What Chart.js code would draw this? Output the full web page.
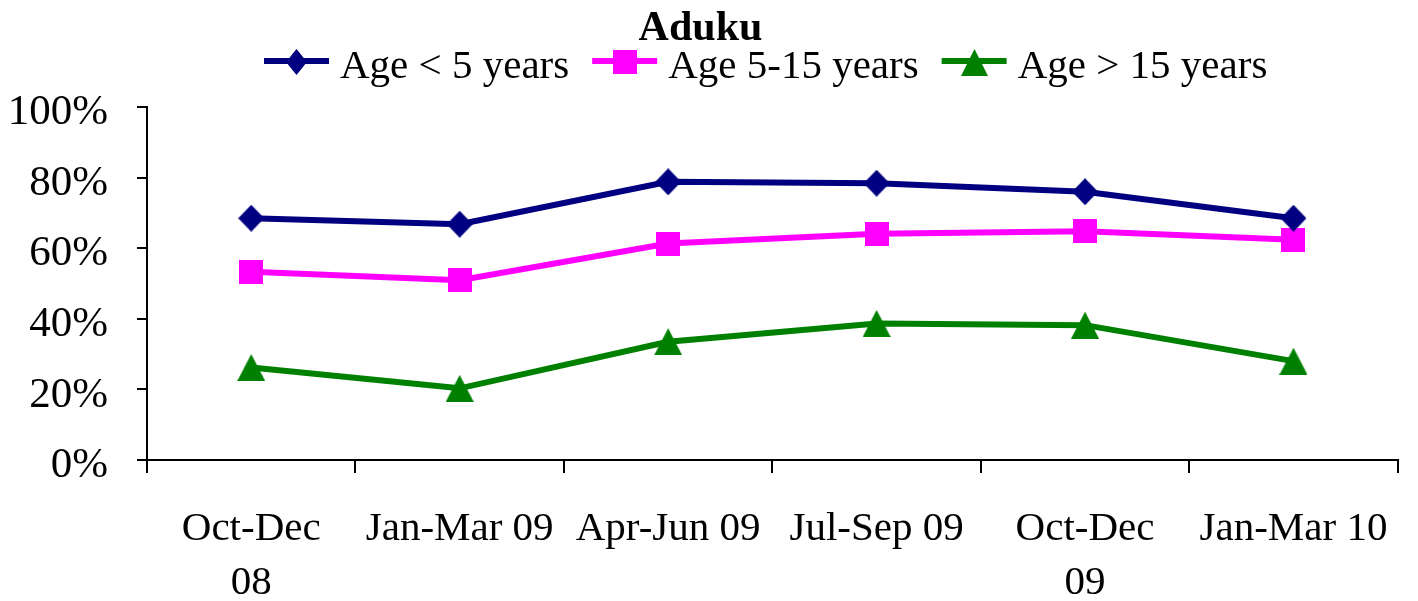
<!DOCTYPE html>
<html>
<head>
<meta charset="utf-8">
<title>Aduku</title>
<script src="https://cdn.jsdelivr.net/npm/chart.js@4.4.1/dist/chart.umd.min.js"></script>
<style>
  html, body { margin: 0; padding: 0; background: #ffffff; }
  #wrap { width: 1418px; height: 601px; position: relative; }
</style>
</head>
<body>
<div id="wrap"><canvas id="chart" width="1418" height="601"></canvas></div>
<script>
// Quarters on the x axis (arrays give two-line labels)
const categories = [["Oct-Dec", "08"], "Jan-Mar 09", "Apr-Jun 09", "Jul-Sep 09", ["Oct-Dec", "09"], "Jan-Mar 10"];

// Percentages per age group
const ageUnder5 = [68.5, 66.8, 78.8, 78.4, 76.0, 68.5];
const age5to15 = [53.3, 50.9, 61.3, 64.1, 64.8, 62.4];
const ageOver15 = [26.2, 20.3, 33.5, 38.7, 38.2, 28.0];

const seriesNames = ["Age < 5 years", "Age 5-15 years", "Age > 15 years"];
const yTicks = [0, 20, 40, 60, 80, 100];

const SERIF = "'Liberation Serif', 'Times New Roman', serif";
const NAVY = "#000080", MAGENTA = "#FF00FF", GREEN = "#008000";

// Marker sprites, centred on their bounding box
function sprite(w, h, color, draw) {
  const c = document.createElement("canvas");
  c.width = w; c.height = h;
  const g = c.getContext("2d");
  g.fillStyle = color;
  g.beginPath();
  draw(g, w, h);
  g.closePath();
  g.fill();
  return c;
}
const diamond = (w, h, color) => sprite(w, h, color, (g, W, H) => {
  g.moveTo(W / 2, 0); g.lineTo(W, H / 2); g.lineTo(W / 2, H); g.lineTo(0, H / 2);
});
const square = (s, color) => sprite(s, s, color, (g, W, H) => {
  g.rect(0, 0, W, H);
});
const triangle = (w, h, color) => sprite(w, h, color, (g, W, H) => {
  g.moveTo(W / 2, 0); g.lineTo(W, H); g.lineTo(0, H);
});

const markers = [diamond(26, 27, NAVY), square(24, MAGENTA), triangle(28, 27, GREEN)];
const legendMarkers = [diamond(21, 26, NAVY), square(24, MAGENTA), triangle(27, 27, GREEN)];

// Legend drawn as line + marker + label
const lineLegend = {
  id: "lineLegend",
  afterDraw(chart) {
    const ctx = chart.ctx;
    const lineY = 61, textBase = 78, lineLen = 65, textGap = 11, itemGap = 23;
    let x = 264;
    ctx.save();
    ctx.font = "41px " + SERIF;
    ctx.textAlign = "left";
    ctx.textBaseline = "alphabetic";
    chart.data.datasets.forEach((ds, i) => {
      ctx.strokeStyle = ds.borderColor;
      ctx.lineWidth = 6;
      ctx.beginPath();
      ctx.moveTo(x, lineY);
      ctx.lineTo(x + lineLen, lineY);
      ctx.stroke();
      const m = legendMarkers[i];
      ctx.drawImage(m, Math.round(x + lineLen / 2 - m.width / 2), Math.round(lineY + 1 - m.height / 2));
      x += lineLen + textGap;
      ctx.fillStyle = "#000000";
      ctx.fillText(ds.label, x, textBase);
      x += ctx.measureText(ds.label).width + itemGap;
    });
    ctx.restore();
  }
};

const seriesValues = [ageUnder5, age5to15, ageOver15];
const colors = [NAVY, MAGENTA, GREEN];

new Chart(document.getElementById("chart"), {
  type: "line",
  data: {
    labels: categories,
    datasets: seriesValues.map((vals, i) => ({
      label: seriesNames[i],
      data: vals,
      borderColor: colors[i],
      backgroundColor: colors[i],
      borderWidth: 6,
      pointStyle: markers[i],
      pointRadius: 13,
      tension: 0,
      fill: false
    }))
  },
  options: {
    responsive: false,
    animation: false,
    devicePixelRatio: 1,
    layout: { padding: { left: 0, right: 17, top: 0, bottom: 0 } },
    plugins: {
      legend: { display: false },
      tooltip: { enabled: false },
      title: {
        display: true,
        text: "Aduku",
        color: "#000000",
        font: { family: SERIF, size: 42, weight: "bold", lineHeight: 1 },
        padding: { top: 8, bottom: 57 }
      }
    },
    scales: {
      x: {
        offset: true,
        grid: {
          offset: true,
          drawOnChartArea: false,
          drawTicks: true,
          tickLength: 13,
          color: "#000000",
          lineWidth: 2
        },
        border: { color: "#000000", width: 2 },
        ticks: {
          color: "#000000",
          font: { family: SERIF, size: 41, lineHeight: 1.32 },
          padding: 29,
          maxRotation: 0,
          autoSkip: false
        },
        afterFit(scale) { scale.height = 141; }
      },
      y: {
        min: 0,
        max: 100,
        afterBuildTicks(scale) { scale.ticks = yTicks.map(v => ({ value: v })); },
        grid: {
          drawOnChartArea: false,
          drawTicks: true,
          tickLength: 10,
          color: "#000000",
          lineWidth: 2
        },
        border: { color: "#000000", width: 2 },
        ticks: {
          color: "#000000",
          font: { family: SERIF, size: 43 },
          padding: 29,
          labelOffset: 6,
          callback: v => v + "%"
        },
        afterFit(scale) { scale.width = 147; }
      }
    }
  },
  plugins: [lineLegend]
});
</script>
</body>
</html>
